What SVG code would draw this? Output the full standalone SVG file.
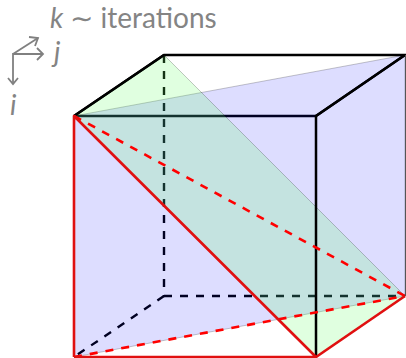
<svg xmlns="http://www.w3.org/2000/svg" width="406" height="358" viewBox="0 0 406 358">
<defs>
<style>
.t{font-family:Lato,"Open Sans",sans-serif;fill:#848484;font-size:28px}
.i{font-style:italic}
.ax{fill:none;stroke:#808080;stroke-width:1.8}
.k{fill:none;stroke:#000;stroke-width:2.500}
.kd{fill:none;stroke:#000;stroke-width:2.400;stroke-dasharray:8 8}
.r{fill:none;stroke:#e01010;stroke-width:2.600;stroke-linejoin:round}
.rd{fill:none;stroke:#f00;stroke-width:2.600;stroke-dasharray:8 8}
.pl{stroke:#000;stroke-opacity:.22;stroke-width:1}
</style>
</defs>
<g id="connectors">
<path class="kd" d="M164 55V296"/>
<path class="kd" d="M164 296H405"/>
<path class="kd" d="M164 296L74 357"/>
</g>
<g id="solid-under">
<path class="k" d="M74 116L164 55H405L316 116"/>
<path class="k" d="M74 116H316"/>
</g>
<g id="plane-blue"><polygon class="pl" fill="#0000ff" fill-opacity=".135" points="74,116 405,55 405,296 74,357"/></g>
<g id="plane-green"><polygon class="pl" fill="#64ff64" fill-opacity=".2" points="74,116 164,55 405,296 316,357"/></g>
<g id="edges">
<path class="k" d="M74 116L164 55M405 55L316 116V357"/>
<path class="k" style="stroke-width:1;stroke:#555" d="M405.500 55V296"/>
<path class="rd" d="M74 116L405 296"/>
<path class="rd" d="M74 357L405 296"/>
<path class="r" d="M74 357V116L316 357H74"/>
<path class="r" d="M316 357L405 296"/>
</g>
<g id="axes">
<path class="ax" d="M13 84V54H43M13 54L38 38"/>
<path class="ax" d="M37 48L43 54L37 60M8 78L13 84L18 78M29 37L38 38L35 46"/>
</g>
<g id="labels">
<text class="t" x="50" y="28"><tspan class="i">k</tspan> ∼ iterations</text>
<text class="t i" x="54" y="62">j</text>
<text class="t i" x="10" y="115">i</text>
</g>
</svg>
